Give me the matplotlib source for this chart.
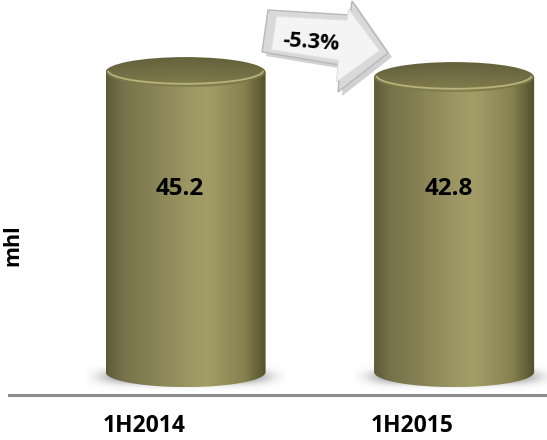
import numpy as np
import matplotlib.pyplot as plt
from matplotlib.patches import Ellipse, Polygon, PathPatch, Arc
from matplotlib.path import Path
from matplotlib.colors import LinearSegmentedColormap

# volumes per half-year, in mhl
periods = ['1H2014', '1H2015']
volumes = [45.2, 42.8]
change_text = '-5.3%'
unit_label = 'mhl'

floor_value = -98.8   # cylinders stand on this level (offset value axis)
bar_width = 0.596
cap_ry = 7.2          # half-height of the elliptical caps, in value units

plt.rcParams['font.family'] = ['Open Sans', 'DejaVu Sans']

body_cmap = LinearSegmentedColormap.from_list('body', [
    (0.0, '#5f5b37'), (0.1, '#76714a'), (0.55, '#a09a65'), (0.64, '#a29c67'),
    (0.86, '#86814f'), (1.0, '#524e2d')])
top_cmap = LinearSegmentedColormap.from_list('top', ['#85804f', '#726e45', '#625e39'])

fig = plt.figure(figsize=(5.47, 4.4), dpi=100)
ax = fig.add_axes([0, 0, 1, 1])
ax.set_xlim(-0.691, 1.346)
ax.set_ylim(-131.4, 79.8)
ax.axis('off')

grad = np.linspace(0, 1, 256).reshape(1, -1)

for i, (name, v) in enumerate(zip(periods, volumes)):
    x0 = i - bar_width / 2
    x1 = i + bar_width / 2

    # soft shadow under the cylinder
    sx = np.linspace(-1, 1, 200)
    sy = np.linspace(-1, 1, 60)
    gx, gy = np.meshgrid(sx, sy)
    alpha = np.exp(-((np.abs(gx) / 0.82) ** 6 + (np.abs(gy) / 0.45) ** 2))
    shadow = np.zeros((60, 200, 4))
    shadow[..., :3] = 0.42
    shadow[..., 3] = alpha * 0.85
    ax.imshow(shadow, extent=[i - 0.37, i + 0.37, floor_value - 9.5, floor_value + 5],
              aspect='auto', zorder=1, interpolation='bilinear')

    # cylinder side: straight walls plus the front half of the bottom ellipse
    t = np.linspace(np.pi, 2 * np.pi, 60)
    verts = [(x0, v), (x0, floor_value)]
    verts += [(i + bar_width / 2 * np.cos(a), floor_value + cap_ry * np.sin(a)) for a in t]
    verts += [(x1, floor_value), (x1, v), (x0, v)]
    body = PathPatch(Path(verts), facecolor='none', edgecolor='none', zorder=2)
    ax.add_patch(body)
    im = ax.imshow(grad, cmap=body_cmap, extent=[x0, x1, floor_value - cap_ry, v],
                   aspect='auto', zorder=2, interpolation='bicubic')
    im.set_clip_path(body)

    # top cap
    cap = Ellipse((i, v), bar_width, 2 * cap_ry, facecolor='none', edgecolor='none', zorder=3)
    ax.add_patch(cap)
    ty = np.linspace(0, 1, 64).reshape(-1, 1)
    tx = np.linspace(-1, 1, 128).reshape(1, -1)
    top_img = np.clip(ty * 0.85 + 0.1 * np.abs(tx), 0, 1)
    im2 = ax.imshow(top_img, cmap=top_cmap, origin='lower',
                    extent=[x0, x1, v - cap_ry, v + cap_ry],
                    aspect='auto', zorder=3, interpolation='bicubic')
    im2.set_clip_path(cap)
    ax.add_patch(Arc((i, v + cap_ry * 0.1), bar_width * 0.97, 2 * cap_ry * 0.88,
                     theta1=195, theta2=345, color='#c4bd84', lw=1.3, alpha=0.85, zorder=4))

    ax.text(i - 0.02, -10.7, f'{v:.1f}', ha='center', va='center',
            fontsize=17.5, fontweight='bold', color='black', zorder=5)
    ax.text(i - 0.155, -124.8, name, ha='center', va='center',
            fontsize=16.5, fontweight='bold', color='black', zorder=5)

# baseline
ax.axhline(-109.8, xmin=9 / 547, xmax=545 / 547, color='#8c8c8c', lw=2.2, zorder=1)

ax.text(0.024, 0.443, unit_label, transform=ax.transAxes, rotation=90,
        ha='center', va='center', fontsize=15.5, fontweight='bold')

# change callout arrow between the two periods
W, H = 547, 440
pts = [(268, 10), (350, 15), (352, 1), (388, 53), (338, 92), (340, 65), (262, 52)]
fp = lambda p, dx=0, dy=0: ((p[0] + dx) / W, 1 - (p[1] + dy) / H)
shadow_poly = Polygon([fp(p, 4, 4) for p in pts], closed=True, transform=fig.transFigure,
                      facecolor='#9a9a9a', edgecolor='none', alpha=0.45, zorder=6)
fig.patches.append(shadow_poly)
outer = Polygon([fp(p) for p in pts], closed=True, transform=fig.transFigure,
                facecolor='#d9d9d9', edgecolor='#b8b8b8', lw=1.0, zorder=7)
fig.patches.append(outer)
cx = np.mean([p[0] for p in pts])
cy = np.mean([p[1] for p in pts])
inner = [(cx + (p[0] - cx) * 0.86, cy + (p[1] - cy) * 0.8) for p in pts]
fig.patches.append(Polygon([fp(p) for p in inner], closed=True, transform=fig.transFigure,
                           facecolor='#f4f4f4', edgecolor='#e0e0e0', lw=0.8, zorder=8))
fig.text(311 / W, 1 - 42 / H, change_text, ha='center', va='center', rotation=-4,
         fontsize=15.5, fontweight='bold', color='black', zorder=9)

fig.savefig('out.png', dpi=100)
